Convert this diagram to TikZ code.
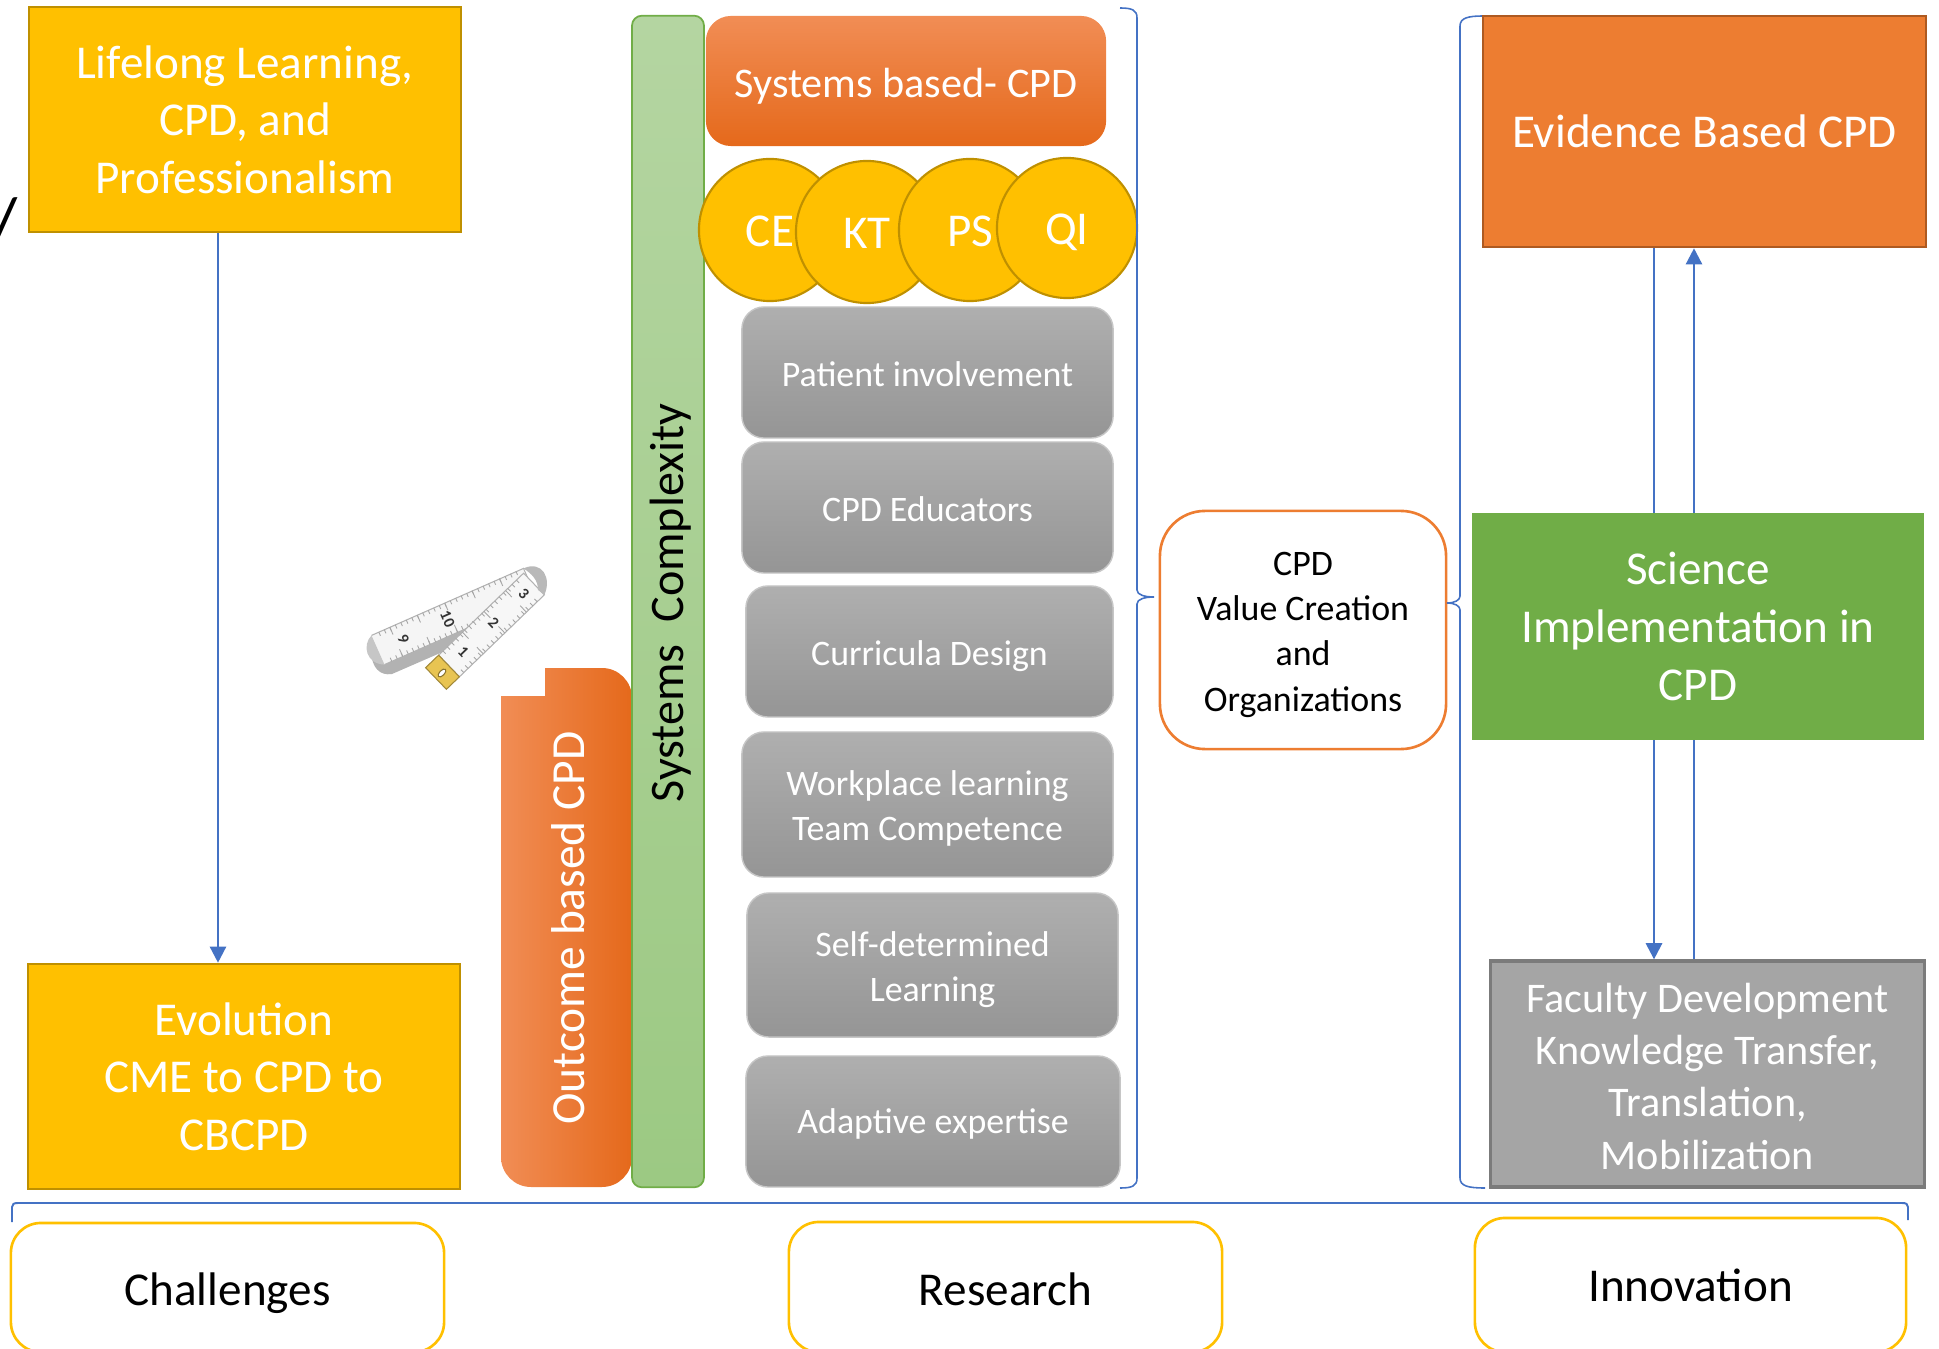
\documentclass[tikz,border=0pt]{standalone}
\usepackage{fontspec}
\setmainfont{Carlito}
\usetikzlibrary{arrows.meta}

\definecolor{gold}{HTML}{FFC000}
\definecolor{golddark}{HTML}{BF9000}
\definecolor{orng}{HTML}{ED7D31}
\definecolor{orngdark}{HTML}{AE5A21}
\definecolor{orngL}{HTML}{F18D55}
\definecolor{orngD}{HTML}{E5691B}
\definecolor{grn}{HTML}{70AD47}
\definecolor{grnL}{HTML}{B4D5A1}
\definecolor{grnD}{HTML}{9CC983}
\definecolor{gry}{HTML}{A5A5A5}
\definecolor{grydark}{HTML}{7B7B7B}
\definecolor{gryL}{HTML}{AFAFAF}
\definecolor{gryD}{HTML}{959595}
\definecolor{blu}{HTML}{4472C4}
\definecolor{tapegold}{HTML}{E8C452}

\tikzset{
  fbig/.style={font=\fontsize{13.4}{16.4}\selectfont},
  fmid/.style={font=\fontsize{12}{14.8}\selectfont},
  fsmall/.style={font=\fontsize{10.2}{12.8}\selectfont},
  sqbox/.style={draw, line width=0.7pt, inner sep=0pt, align=center, text=white},
  goldbox/.style={sqbox, fill=gold, draw=golddark, fbig},
  pill/.style={rounded corners=0.22cm, draw=gray!45, line width=0.4pt,
    top color=gryL, bottom color=gryD, inner sep=0pt},
  pilltxt/.style={text=white, align=center, inner sep=0pt, fsmall},
  disc/.style={circle, fill=gold, draw=golddark, line width=0.6pt,
    minimum size=1.42cm, inner sep=0pt, text=white, fbig},
  tag/.style={draw=gold, line width=0.75pt, fill=white, rounded corners=0.3cm, inner sep=0pt},
  tagtxt/.style={inner sep=0pt, fbig, text=black},
  link/.style={draw=blu, line width=0.7pt},
  tip/.style={-{Triangle[width=4.6pt,length=4.6pt]}},
  brace/.style={draw=blu, line width=0.45pt},
  tapeedge/.style={draw=gray!60, line width=0.3pt},
  tick/.style={draw=gray!70, line width=0.25pt},
  tapenum/.style={font=\fontsize{4.5}{5}\selectfont\bfseries, text=black!80, inner sep=0pt},
}

\begin{document}
\begin{tikzpicture}[x=0.01cm,y=-0.01cm]
\useasboundingbox (0,0) rectangle (1939,1349);

% stray slash at the left margin
\node[font=\fontsize{20}{20}\selectfont, inner sep=0pt] (slash) at (4,224) {/};

% ---------------- left column ----------------
\node[goldbox, minimum width=4.32cm, minimum height=2.25cm] (llc) at (245,119.5)
  {Lifelong Learning,\\CPD, and\\Professionalism};
\node[goldbox, minimum width=4.32cm, minimum height=2.25cm] (evo) at (244,1076.5)
  {Evolution\\CME to CPD to\\CBCPD};
\coordinate (xa) at (218,0);
\draw[link, tip] (llc.south -| xa) -- (evo.north -| xa);

% ---------------- tape measure ----------------
% back strip
\fill[gray!8] (371.5,635.4) -- (523.5,568.4) -- (536.5,597.6) -- (384.5,664.6) -- cycle;
\draw[tapeedge] (371.5,635.4) -- (523.5,568.4) -- (536.5,597.6) -- (384.5,664.6);
% curled underside near the left end
\fill[gray!60] (384.5,664.6) -- (472,626) -- (477,637) -- (392,674) .. controls (380,676) and (372,668) .. (371,652) -- cycle;
\fill[gray!45] (371.5,635.4) .. controls (362,645) and (366,664) .. (384.5,664.6) -- cycle;
\begin{scope}[shift={(378,650)}, rotate=23.9]
  \foreach \s in {8,14,...,158} {
    \draw[tick] (\s,-16) -- (\s,-12);
    \draw[tick] (\s,16) -- (\s,12);
  }
  \foreach \s in {20,50,80,110,140} {
    \draw[tick] (\s,-16) -- (\s,-8);
    \draw[tick] (\s,16) -- (\s,8);
  }
  \node[tapenum, rotate=-66] (n9) at (28,0) {9};
  \node[tapenum, rotate=-66] (n10) at (76,0) {10};
\end{scope}
% front strip
\fill[gray!6] (523.6,573.2) -- (544.4,594.8) -- (459.4,676.8) -- (438.6,655.2) -- cycle;
\draw[tapeedge] (523.6,573.2) -- (544.4,594.8) -- (459.4,676.8) -- (438.6,655.2) -- cycle;
\begin{scope}[shift={(534,584)}, rotate=223.9]
  \foreach \s in {10,16,...,112} {
    \draw[tick] (\s,-15) -- (\s,-11);
    \draw[tick] (\s,15) -- (\s,11);
  }
  \foreach \s in {25,55,85} {
    \draw[tick] (\s,-15) -- (\s,-6);
    \draw[tick] (\s,15) -- (\s,6);
  }
  \node[tapenum, rotate=-46] (n3) at (14,0) {3};
  \node[tapenum, rotate=-46] (n2) at (56,0) {2};
  \node[tapenum, rotate=-46] (n1) at (98,0) {1};
\end{scope}
% fold at the top end
\fill[gray!55] (523.5,568.4) .. controls (542,560) and (552,578) .. (544.4,594.8) -- (538,590) .. controls (538,580) and (532,574) .. (523.5,568.4) -- cycle;
% metal end tab
\filldraw[fill=tapegold, draw=tapegold!70!black, line width=0.3pt]
  (438.6,655.2) -- (459.4,676.8) -- (446.4,689.3) -- (425.6,667.7) -- cycle;
\filldraw[fill=white, draw=tapegold!60!black, line width=0.3pt, rotate around={46:(442,673)}]
  (442,673) ellipse [x radius=0.05cm, y radius=0.025cm];

% ---------------- outcome based CPD ----------------
\shade[left color=orngL, right color=orngD]
  (501,696) -- (545,696) -- (545,668) [rounded corners=0.3cm] -- (632,668)
  -- (632,1187) -- (501,1187) [sharp corners] -- cycle;
\node[rotate=90, font=\fontsize{13.5}{16}\selectfont, text=white, inner sep=0pt] (obc) at (568,928) {Outcome based CPD};

% ---------------- systems complexity bar ----------------
\node[draw=grn, line width=0.5pt, rounded corners=0.1cm, top color=grnL, bottom color=grnD,
  minimum width=0.72cm, minimum height=11.71cm, inner sep=0pt] (sysbar) at (668,601.5) {};
\node[rotate=90, font=\fontsize{13.7}{16}\selectfont, text=black, inner sep=0pt] (syst) at (670.5,603) {Systems~~Complexity};

% ---------------- research column ----------------
\node[rounded corners=0.25cm, top color=orngL, bottom color=orngD,
  minimum width=4cm, minimum height=1.3cm, inner sep=0pt] (sbc) at (906,81) {};
\node[text=white, fmid, inner sep=0pt] (sbctxt) at ([yshift=-1.4pt]sbc.center) {Systems based- CPD};

\node[disc] (ce) at (770,230) {};
\node[text=white, fbig, inner sep=0pt] (cetxt) at ([yshift=-0.35pt]ce.center) {CE};
\node[disc] (kt) at (867,232) {};
\node[text=white, fbig, inner sep=0pt] (kttxt) at ([yshift=-0.35pt]kt.center) {KT};
\node[disc] (ps) at (970,230) {};
\node[text=white, fbig, inner sep=0pt] (pstxt) at ([yshift=-0.35pt]ps.center) {PS};
\node[disc, minimum size=1.40cm] (qi) at (1067,228) {};
\node[text=white, fbig, inner sep=0pt] (qitxt) at ([yshift=-1.1pt]qi.center) {QI};

\node[pill, minimum width=3.71cm, minimum height=1.31cm] (pat) at (927.5,372.5) {};
\node[pilltxt] (pattxt) at ([yshift=-0.35pt]pat.center) {Patient involvement};
\node[pill, minimum width=3.71cm, minimum height=1.31cm] (edu) at (927.5,507.5) {};
\node[pilltxt] (edutxt) at ([yshift=-0.35pt]edu.center) {CPD Educators};
\node[pill, minimum width=3.67cm, minimum height=1.31cm] (cur) at (929.5,651.5) {};
\node[pilltxt] (curtxt) at ([yshift=-1.4pt]cur.center) {Curricula Design};
\node[pill, minimum width=3.71cm, minimum height=1.45cm] (wpl) at (927.5,804.5) {};
\node[pilltxt] (wpltxt) at ([yshift=-1.1pt]wpl.center) {Workplace learning\\Team Competence};
\node[pill, minimum width=3.71cm, minimum height=1.44cm] (sdl) at (932.5,965) {};
\node[pilltxt] (sdltxt) at ([yshift=-1.4pt]sdl.center) {Self-determined\\Learning};
\node[pill, minimum width=3.74cm, minimum height=1.31cm] (ada) at (933,1121.5) {};
\node[pilltxt] (adatxt) at ([yshift=-0.7pt]ada.center) {Adaptive expertise};

% brace closing the research column
\draw[brace] (1120,8) .. controls (1132,8) and (1137,10) .. (1137,18) -- (1137,590)
  .. controls (1137,595) and (1145,597) .. (1154,597)
  .. controls (1145,597) and (1137,599) .. (1137,604) -- (1137,1178)
  .. controls (1137,1186) and (1132,1188) .. (1120,1188);

% ---------------- centre ----------------
\node[draw=orng, line width=0.75pt, rounded corners=0.45cm, fill=white,
  minimum width=2.86cm, minimum height=2.38cm, inner sep=0pt] (val) at (1303,630) {};
\node[inner sep=0pt, fsmall, align=center] (valtxt) at ([yshift=-1.4pt]val.center)
  {CPD\\Value Creation\\and\\Organizations};

% brace opening the innovation column
\draw[brace] (1483,16) .. controls (1468,16) and (1460,18) .. (1460,26) -- (1460,596)
  .. controls (1460,600) and (1455,603) .. (1447,603)
  .. controls (1455,603) and (1460,606) .. (1460,610) -- (1460,1178)
  .. controls (1460,1186) and (1468,1188) .. (1485,1188);

% ---------------- innovation column ----------------
\node[sqbox, fill=orng, draw=orngdark, fbig, minimum width=4.43cm, minimum height=2.31cm] (ebc) at (1704.5,131.5)
  {Evidence Based CPD};
\node[sqbox, fill=gry, draw=grydark, line width=0.9pt, minimum width=4.33cm, minimum height=2.26cm] (fac) at (1707.5,1074) {};
\node[text=white, fmid, align=center, inner sep=0pt] (factxt) at ([yshift=-0.7pt]fac.center)
  {Faculty Development\\Knowledge Transfer,\\Translation,\\Mobilization};
\coordinate (xl) at (1654,0);
\coordinate (xr) at (1694,0);
\draw[link, tip] (ebc.south -| xl) -- (fac.north -| xl);
\draw[link, tip] (fac.north -| xr) -- (ebc.south -| xr);
\node[sqbox, fill=grn, draw=grn, fbig, minimum width=4.5cm, minimum height=2.25cm] (sci) at (1698,626.5)
  {Science\\Implementation in\\CPD};

% ---------------- bottom row ----------------
\draw[brace, line width=0.55pt] (12,1222) -- (12,1207) .. controls (12,1204) and (14,1203) .. (18,1203)
  -- (1902,1203) .. controls (1906,1203) and (1908,1204) .. (1908,1207) -- (1908,1220);

\node[tag, minimum width=4.33cm, minimum height=1.29cm] (chal) at (227.5,1287.5) {};
\node[tagtxt] (chaltxt) at ([yshift=-1.7pt]chal.center) {Challenges};
\node[tag, minimum width=4.33cm, minimum height=1.30cm] (res) at (1005.5,1287) {};
\node[tagtxt] (restxt) at ([yshift=-0.7pt]res.center) {Research};
\node[tag, minimum width=4.31cm, minimum height=1.34cm] (inn) at (1690.5,1285) {};
\node[tagtxt] (inntxt) at (inn.center) {Innovation};

\end{tikzpicture}
\end{document}
